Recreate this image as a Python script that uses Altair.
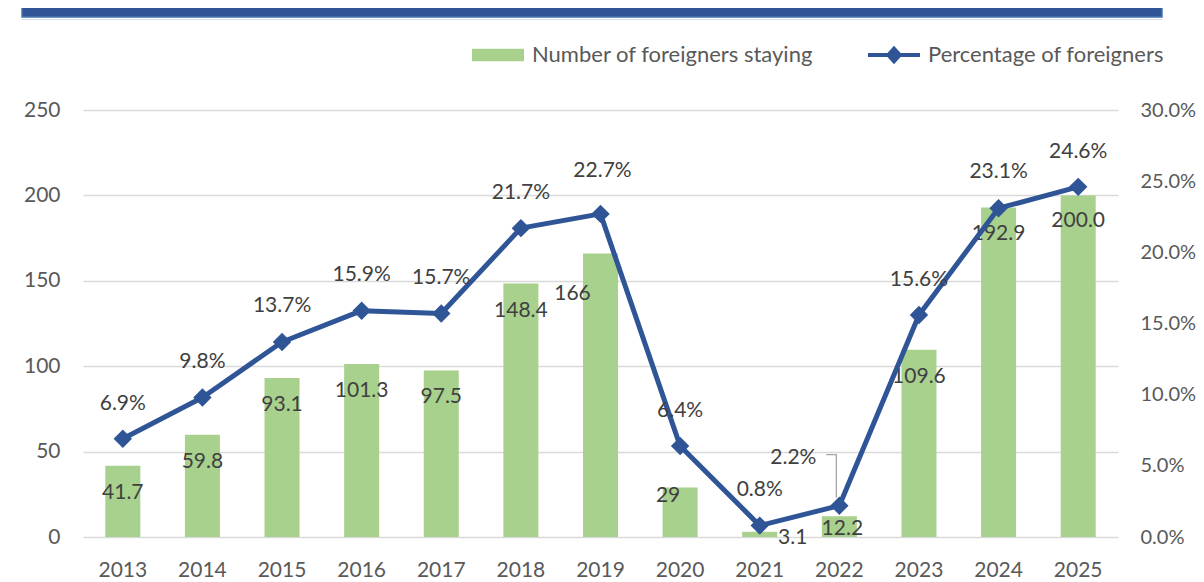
import altair as alt
import pandas as pd

# ---------------- data ----------------
years = ["2013", "2014", "2015", "2016", "2017", "2018", "2019",
         "2020", "2021", "2022", "2023", "2024", "2025"]
staying = [41.7, 59.8, 93.1, 101.3, 97.5, 148.4, 166, 29, 3.1, 12.2, 109.6, 192.9, 200.0]
staying_text = ["41.7", "59.8", "93.1", "101.3", "97.5", "148.4", "166",
                "29", "3.1", "12.2", "109.6", "192.9", "200.0"]
share_pct = [6.9, 9.8, 13.7, 15.9, 15.7, 21.7, 22.7, 6.4, 0.8, 2.2, 15.6, 23.1, 24.6]
bar_series = "Number of foreigners staying"
line_series = "Percentage of foreigners"
left_ticks = [0, 50, 100, 150, 200, 250]
right_ticks = [0, 0.05, 0.10, 0.15, 0.20, 0.25, 0.30]

# ---------------- label nudges (pixels, style only) ----------------
bar_dx = [0, 0, 0, 0, 0, 0, -28, -12, 33, 3, 0, 0, 0]
bar_dy = [27, 27, 27, 27, 27, 27, 41, 9, 6, 13, 27, 26, 26]
pct_dx = [0, 0, 0, 0, 0, 0, 2, 0, 0, -46, 0, 0, 0]
pct_dy = [-35, -36, -36, -36, -36, -35, -43, -35, -36, -48, -35, -36, -35]

GREEN = "#A9D18E"
BLUE = "#2F5597"
GRID = "#D9D9D9"
FONT = "Lato"
FS = 21

df = pd.DataFrame({
    "year": years,
    "count": staying,
    "count_label": staying_text,
    "share": [p / 100 for p in share_pct],
    "share_label": [f"{p:.1f}%" for p in share_pct],
    "bdx": bar_dx, "bdy": bar_dy, "pdx": pct_dx, "pdy": pct_dy,
    "bar_s": [bar_series] * len(years),
    "line_s": [line_series] * len(years),
})

base = alt.Chart(df)
x = alt.X("year:N", sort=years,
          scale=alt.Scale(paddingInner=0.56, paddingOuter=0.28),
          axis=alt.Axis(title=None, domain=False, ticks=False, labelAngle=0,
                        labelPadding=22, grid=False))

y_left = alt.Y("count:Q",
               scale=alt.Scale(domain=[0, 250], nice=False),
               axis=alt.Axis(values=left_ticks, title=None, domain=False, ticks=False,
                             labelPadding=23, gridColor=GRID, gridWidth=1.3, orient="left"))

bars = base.mark_bar().encode(
    x=x, y=y_left,
    color=alt.Color("bar_s:N",
                    scale=alt.Scale(domain=[bar_series], range=[GREEN]),
                    legend=alt.Legend(title=None, orient="none", legendX=389, legendY=-81,
                                      symbolType="M-1,-0.24 H1 V0.24 H-1 Z",
                                      symbolSize=2704, symbolStrokeWidth=0,
                                      labelOffset=8, labelLimit=0, padding=0)),
)
bar_text = base.mark_text(font=FONT, fontSize=FS, color="#404040", baseline="middle",
                          dx=alt.ExprRef(expr="datum.bdx"),
                          dy=alt.ExprRef(expr="datum.bdy")).encode(
    x=x, y=y_left, text="count_label:N")

left_layer = alt.layer(bars, bar_text)

y_right = alt.Y("share:Q",
                scale=alt.Scale(domain=[0, 0.3], nice=False),
                axis=alt.Axis(values=right_ticks, format=".1%", title=None, domain=False,
                              ticks=False, grid=False, labelPadding=22, labelFontSize=20,
                              orient="right"))

line = base.mark_line(strokeWidth=5, strokeJoin="round").encode(
    x=x, y=y_right,
    stroke=alt.Stroke("line_s:N",
                      scale=alt.Scale(domain=[line_series], range=[BLUE]),
                      legend=alt.Legend(title=None, orient="none", legendX=783, legendY=-83,
                                        symbolType="M-1,0 H1 M-0.22,0 L0,-0.24 L0.22,0 L0,0.24 Z",
                                        symbolSize=2704, symbolStrokeWidth=4,
                                        symbolFillColor=BLUE, symbolStrokeColor=BLUE,
                                        labelOffset=6, labelLimit=0, padding=0)),
)
points = base.mark_point(shape="diamond", filled=True, size=340, color=BLUE, opacity=1).encode(
    x=x, y=y_right)
pct_text = base.mark_text(font=FONT, fontSize=FS, color="#404040", baseline="middle",
                          dx=alt.ExprRef(expr="datum.pdx"),
                          dy=alt.ExprRef(expr="datum.pdy")).encode(
    x=x, y=y_right, text="share_label:N")
leader = base.mark_point(shape="M-13,-51 H-3 V-8", size=4, filled=False,
                         stroke="#A6A6A6", strokeWidth=1.3, opacity=1).encode(
    x=x, y=y_right).transform_filter(alt.datum.year == "2022")

right_layer = alt.layer(line, points, pct_text, leader)

banner_df = pd.DataFrame({"k": [0]})
banner = alt.Chart(banner_df).mark_rect(fill=BLUE, stroke="#4A76B0", strokeWidth=1.5).encode(
    x=alt.value(-61), x2=alt.value(1079), y=alt.value(-104), y2=alt.value(-93))
banner_line = alt.Chart(banner_df).mark_rect(fill="#D6E0EF").encode(
    x=alt.value(-61), x2=alt.value(1079), y=alt.value(-91), y2=alt.value(-90))

chart = alt.layer(left_layer, right_layer, banner, banner_line).resolve_scale(
    y="independent"
).properties(
    width=1035, height=427,
    autosize=alt.AutoSizeParams(type="none"),
    padding={"left": 75, "top": 102, "right": 78, "bottom": 45},
).configure_view(stroke=None).configure_axis(
    labelFont=FONT, labelFontSize=FS, labelColor="#595959"
).configure_legend(
    labelFont=FONT, labelFontSize=22, labelColor="#595959"
)

chart.save("out.html", embed_options={"renderer": "svg", "actions": False})
